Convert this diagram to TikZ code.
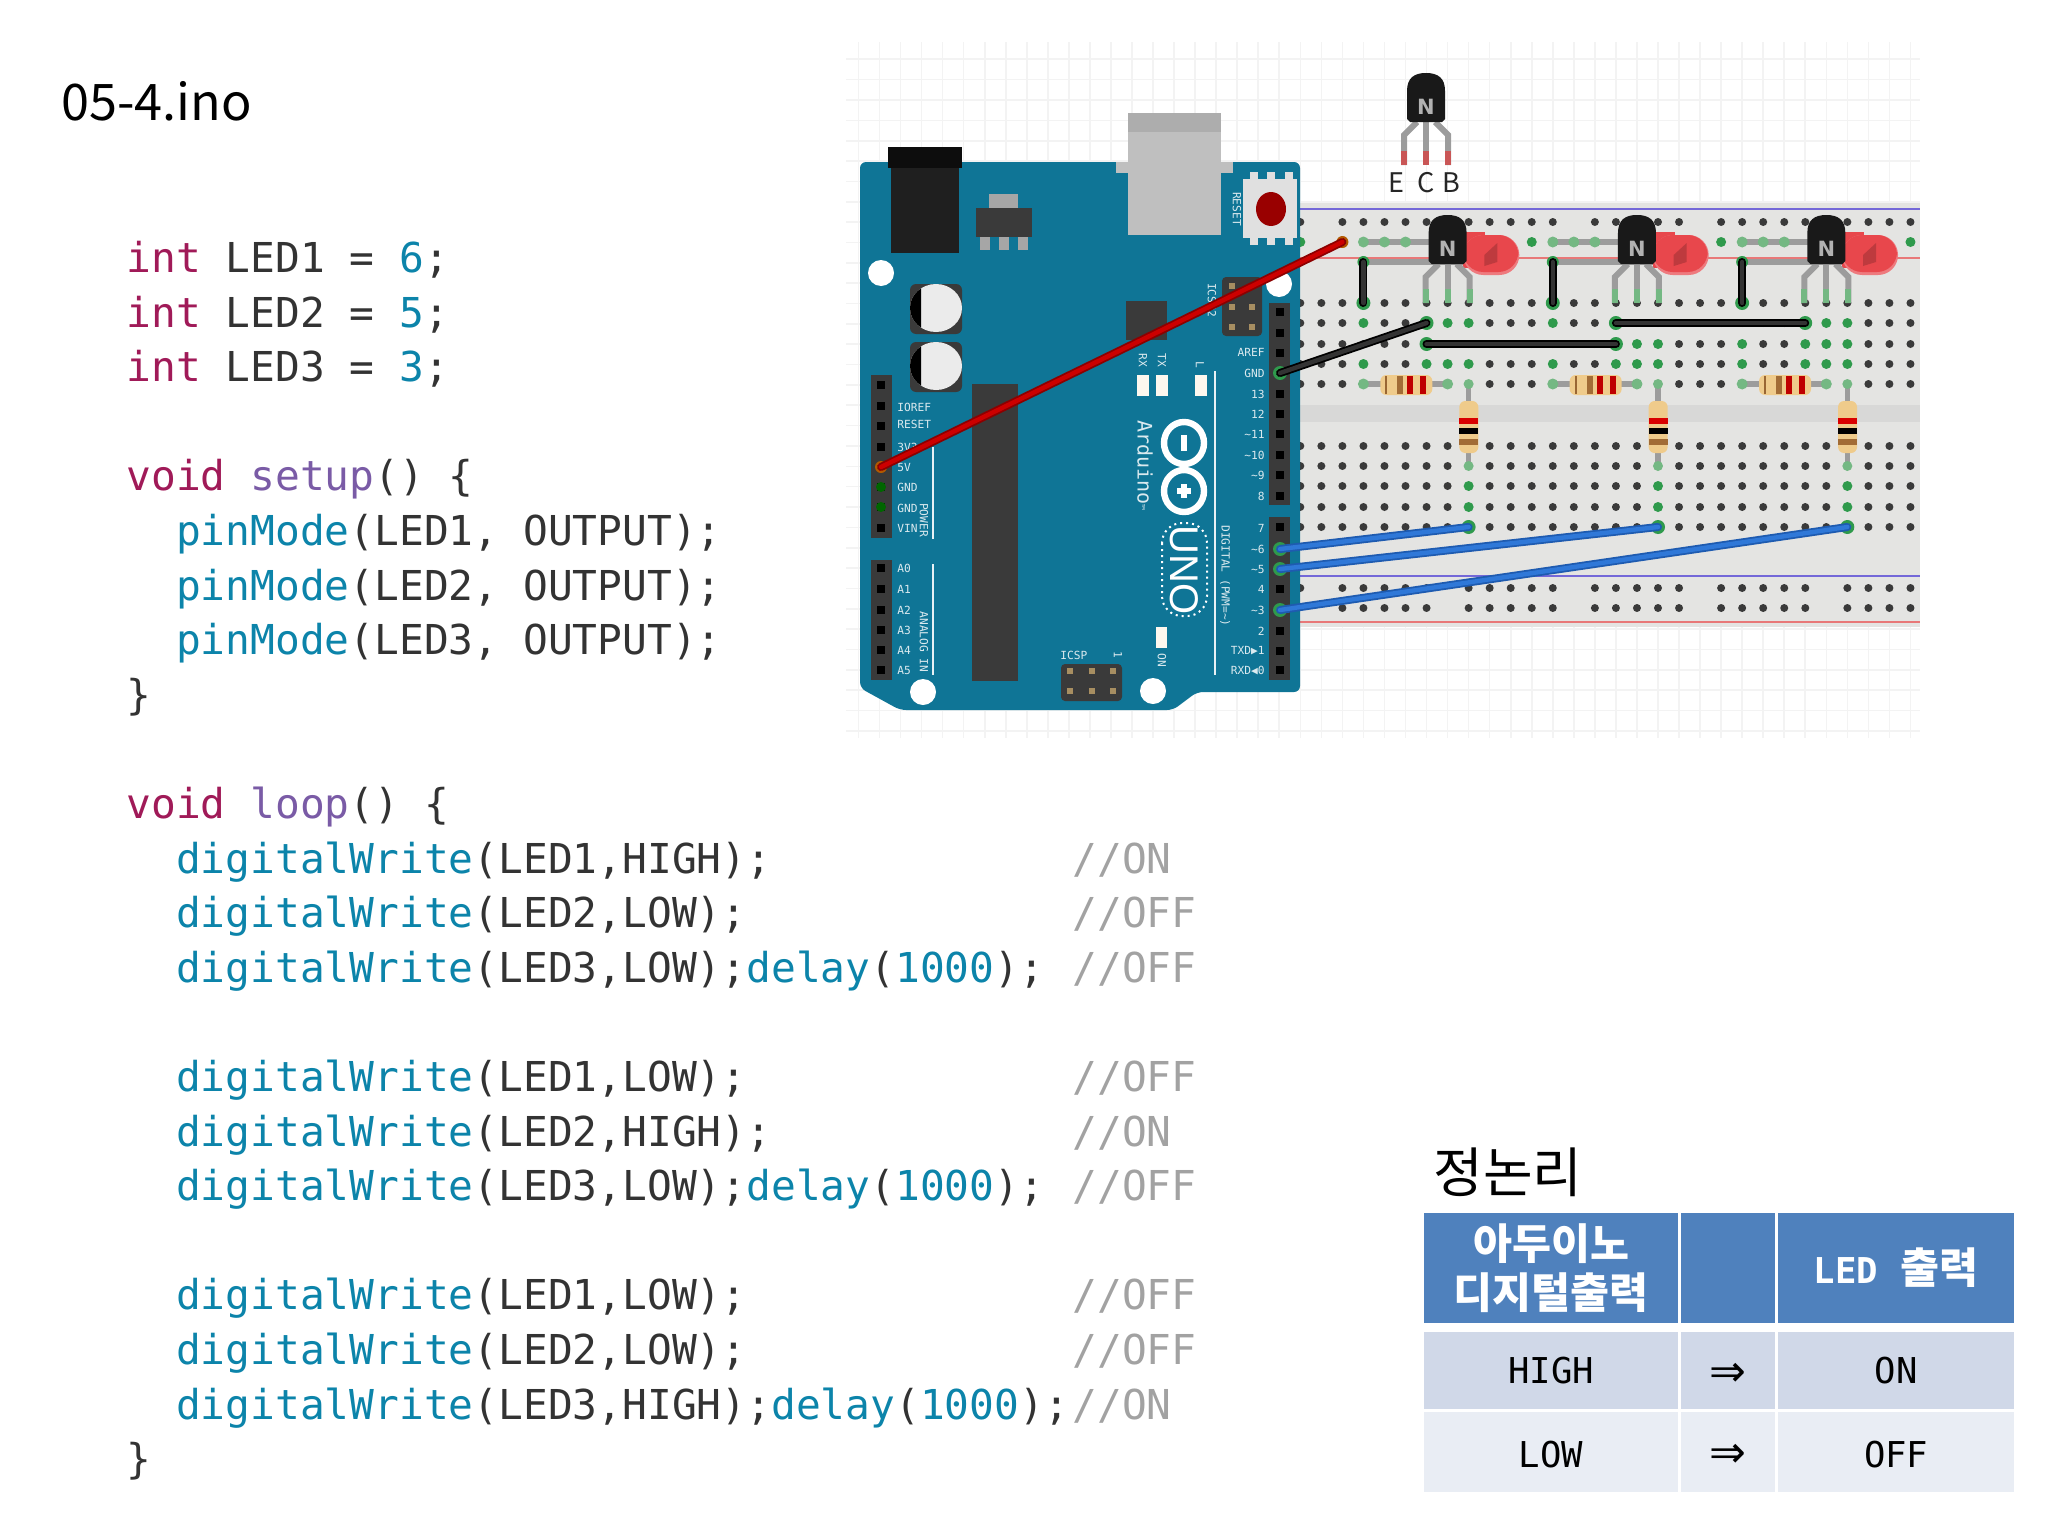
\documentclass[tikz,border=0pt]{standalone}
\usepackage{fontspec}
\setmainfont{Liberation Sans}
\setmonofont{DejaVu Sans Mono}
\newfontfamily\krfont{Noto Sans CJK KR}
\newfontfamily\symfont{DejaVu Sans}
\usetikzlibrary{calc,positioning}

\definecolor{kwred}{HTML}{A01A58}
\definecolor{fnpurple}{HTML}{7A5BA6}
\definecolor{fnblue}{HTML}{0C84AA}
\definecolor{inkdark}{HTML}{333333}
\definecolor{cmtgrey}{HTML}{A2A2A2}
\definecolor{boardteal}{HTML}{0F7596}
\definecolor{hdrdark}{HTML}{3A3A3A}
\definecolor{bbgrey}{HTML}{E4E4E2}
\definecolor{gridgrey}{HTML}{F3F3F3}
\definecolor{holegreen}{HTML}{2F9A4C}
\definecolor{leadgreen}{HTML}{74B883}
\definecolor{leadgrey}{HTML}{9C9C9C}
\definecolor{tanbody}{HTML}{EFCB8B}
\definecolor{ledred}{HTML}{E8474C}
\definecolor{railblue}{HTML}{7468D8}
\definecolor{railred}{HTML}{E87878}
\definecolor{wireblue}{HTML}{2F78D8}
\definecolor{wirebluedk}{HTML}{1E5BB0}
\definecolor{headblue}{HTML}{4F81BD}
\definecolor{rowdark}{HTML}{D0D8E8}
\definecolor{rowlight}{HTML}{E9EDF4}

\newcommand{\kw}[1]{\textcolor{kwred}{#1}}
\newcommand{\fnp}[1]{\textcolor{fnpurple}{#1}}
\newcommand{\fnb}[1]{\textcolor{fnblue}{#1}}
\newcommand{\dropped}[2]{\raisebox{-#1}[\height][\depth]{#2}}

% name, centre x, top y, tip colour, leg end
\newcommand{\transistor}[5]{
  \begin{scope}[shift={(#2,#3)}]
    \draw[lead] (-9,49) -- (-22,62) -- (-22,#5);
    \draw[lead] (0,49) -- (0,#5);
    \draw[lead] (9,49) -- (22,62) -- (22,#5);
    \draw[lead,#4] (-22,#5-14) -- (-22,#5);
    \draw[lead,#4] (0,#5-14) -- (0,#5);
    \draw[lead,#4] (22,#5-14) -- (22,#5);
    \fill[black!90] (-19,18) .. controls (-19,5) and (-12,0) .. (0,0)
      .. controls (12,0) and (19,5) .. (19,18) -- (19,46) -- (16,49) -- (-16,49) -- (-19,46) -- cycle;
    \node[tolabel] (#1) at (0,34) {N};
  \end{scope}
}

\begin{document}
\begin{tikzpicture}[x=0.5pt,y=0.5pt,yscale=-1,xscale=1,
  codeline/.style={anchor=base west, inner sep=0pt, text=inkdark,
    font=\ttfamily\fontsize{20.6}{24}\selectfont},
  comment/.style={codeline, text=cmtgrey},
  pinlab/.style={inner sep=0pt, text=white!85!boardteal,
    font=\ttfamily\fontsize{5.6}{6}\selectfont},
  hole/.style={fill=hdrdark},
  greenhole/.style={fill=holegreen},
  lead/.style={draw=leadgrey, line width=3pt},
  tolabel/.style={inner sep=0pt, text=black!30,
    font=\fontspec{DejaVu Sans Bold}\fontsize{10.5}{12}\selectfont},
  legend/.style={inner sep=0pt, text=black!85,
    font=\krfont\fontsize{13.5}{16}\selectfont},
  wire/.style={line cap=round, line width=0.9pt, double distance=2.2pt},
  cell/.style={anchor=north west, inner sep=0pt, outer sep=0pt, align=center,
    font=\ttfamily\fontsize{17.8}{20}\selectfont},
  hdrcell/.style={cell, fill=headblue, text=white, minimum height=55pt},
  darkcell/.style={cell, fill=rowdark, text=black, minimum height=38.5pt},
  lightcell/.style={cell, fill=rowlight, text=black, minimum height=40pt}
  ]

  \useasboundingbox (0,0) rectangle (2048,1536);

  \node[anchor=base west, inner sep=0pt, font=\krfont\fontsize{25.2}{28}\selectfont] (title) at (61,120) {05-4.ino};

  \foreach \n/\col/\txt in {
    0/126/{\kw{int} LED1 = \fnb{6};},
    1/126/{\kw{int} LED2 = \fnb{5};},
    2/126/{\kw{int} LED3 = \fnb{3};},
    4/126/{\kw{void} \fnp{setup}() \{},
    5/175.6/{\fnb{pinMode}(LED1, OUTPUT);},
    6/175.6/{\fnb{pinMode}(LED2, OUTPUT);},
    7/175.6/{\fnb{pinMode}(LED3, OUTPUT);},
    8/126/{\}},
    10/126/{\kw{void} \fnp{loop}() \{},
    11/175.6/{\fnb{digitalWrite}(LED1,HIGH);},
    12/175.6/{\fnb{digitalWrite}(LED2,LOW);},
    13/175.6/{\fnb{digitalWrite}(LED3,LOW);\fnb{delay}(\fnb{1000});},
    15/175.6/{\fnb{digitalWrite}(LED1,LOW);},
    16/175.6/{\fnb{digitalWrite}(LED2,HIGH);},
    17/175.6/{\fnb{digitalWrite}(LED3,LOW);\fnb{delay}(\fnb{1000});},
    19/175.6/{\fnb{digitalWrite}(LED1,LOW);},
    20/175.6/{\fnb{digitalWrite}(LED2,LOW);},
    21/175.6/{\fnb{digitalWrite}(LED3,HIGH);\fnb{delay}(\fnb{1000});},
    22/126/{\}}}
    \node[codeline] (line\n) at (\col,272.5+54.6*\n) {\txt};

  \foreach \n/\txt in {11/{//ON},12/{//OFF},13/{//OFF},15/{//OFF},16/{//ON},17/{//OFF},19/{//OFF},20/{//OFF},21/{//ON}}
    \node[comment] (cmt\n) at (1072,272.5+54.6*\n) {\txt};

  % grid behind the board
  \foreach \i in {-21,...,29}
    \draw[gridgrey, line width=0.8pt] (1300.3+21.04*\i,42) -- (1300.3+21.04*\i,738);
  \foreach \j in {0,...,33}
    \draw[gridgrey, line width=0.8pt] (846,59.3+20.35*\j) -- (1920,59.3+20.35*\j);

  % breadboard
  \fill[bbgrey] (1290,203) rectangle (1920,627);
  \fill[black!5!bbgrey] (1290,405) rectangle (1920,422);
  \draw[railblue, line width=1.2pt] (1290,209) -- (1920,209);
  \draw[railred, line width=1pt] (1290,258) -- (1920,258);
  \draw[railblue, line width=1pt] (1290,576) -- (1920,576);
  \draw[railred, line width=1.4pt] (1290,622) -- (1920,622);
  \foreach \r in {303,323,344,364,384,446,466,486,507,527}
    \foreach \i in {0,...,29}
      \fill[hole] (1300.3+21.04*\i,\r) circle (4);
  \foreach \r in {222,588,608}
    \foreach \i in {2,...,6,8,9,10,11,12,14,15,16,17,18,20,21,22,23,24,26,27,28,29}
      \fill[hole] (1300.3+21.04*\i,\r) circle (4);
  \foreach \r in {222,588}
    \fill[hole] (1300.3,\r) circle (4);
  \foreach \i in {0,11,20,29}
    \fill[greenhole] (1300.3+21.04*\i,242) circle (5);
  \foreach \i/\r in {3/323,6/323,7/323,8/323,12/323,15/323,24/323,25/323,26/323,
    6/344,15/344,16/344,17/344,21/344,24/344,25/344,26/344,
    3/364,6/364,7/364,8/364,12/364,15/364,16/364,17/364,21/364,24/364,25/364,26/364,
    8/486,8/507,8/527,17/486,17/507,17/527,26/486,26/507,26/527}
    \fill[greenhole] (1300.3+21.04*\i,\r) circle (5);

  % three led stages
  \foreach \k in {0,1,2}{
    \pgfmathsetmacro{\ux}{1300.3+189.36*\k}
    \draw[leadgrey, line width=2.6pt] (\ux+63.1,242) -- (\ux+165,242);
    \draw[leadgrey, line width=2.6pt] (\ux+63.1,262) -- (\ux+165,262);
    \foreach \i in {3,4,5}
      \fill[leadgreen] (\ux+21.04*\i,242) circle (5.5);
    \fill[ledred] (\ux+163,232) rectangle (\ux+185,268);
    \fill[ledred!72!white, rounded corners=10pt] (\ux+163,235) rectangle (\ux+219,275);
    \fill[ledred, rounded corners=10pt] (\ux+163,235) rectangle (\ux+218,272);
    \fill[ledred!82!black] (\ux+184,255) -- (\ux+197,243) -- (\ux+197,262) -- (\ux+184,266) -- cycle;
    \transistor{trans\k}{\ux+147.3}{215}{draw=leadgreen}{88}
    % horizontal resistor
    \draw[leadgrey, line width=2.6pt] (\ux+63.1,384) -- (\ux+147.3,384);
    \fill[leadgreen] (\ux+63.1,384) circle (5.5);
    \fill[leadgreen] (\ux+147.3,384) circle (5.5);
    \fill[tanbody, rounded corners=3pt] (\ux+80,375) rectangle (\ux+132,395);
    \fill[brown!80!black] (\ux+85,376) rectangle (\ux+87,394);
    \fill[brown!85!black] (\ux+97,376) rectangle (\ux+103,394);
    \fill[red!75!black] (\ux+107,376) rectangle (\ux+113,394);
    \fill[red!75!black] (\ux+120,376) rectangle (\ux+126,394);
    % vertical resistor
    \draw[leadgrey, line width=2.6pt] (\ux+168.3,384) -- (\ux+168.3,466);
    \fill[leadgreen] (\ux+168.3,384) circle (5);
    \fill[leadgreen] (\ux+168.3,466) circle (5);
    \fill[tanbody, rounded corners=3pt] (\ux+159,401) rectangle (\ux+178,453);
    \fill[red!85!black] (\ux+159,418) rectangle (\ux+178,424);
    \fill[black] (\ux+159,428) rectangle (\ux+178,434);
    \fill[brown!85!black] (\ux+159,439) rectangle (\ux+178,445);
  }

  % loose transistor with its legend
  \transistor{spare}{1426}{73}{draw=red!45!leadgrey}{92}
  \node[legend] (legE) at (1396,183) {E};
  \node[legend] (legC) at (1426,183) {C};
  \node[legend] (legB) at (1451,183) {B};

  % board parts under the outline
  \fill[black!25] (1116,162) rectangle (1233,173);
  \fill[boardteal, rounded corners=3pt] (860,162) -- (1300,162) -- (1300,692) -- (1197,692)
    -- (1173,710) -- (900,710) -- (860,688) -- cycle;
  \fill[black!25] (1116,162) rectangle (1233,173);
  \fill[black!25] (1128,113) rectangle (1221,235);
  \fill[black!32] (1128,113) rectangle (1221,132);
  \fill[black!88] (891,168) rectangle (959,253);
  \fill[black!95] (888,147) rectangle (962,168);
  \fill[black!35] (989,194) rectangle (1018,208);
  \fill[hdrdark] (976,208) rectangle (1032,237);
  \foreach \lx in {980,999,1018}
    \fill[black!35] (\lx,237) rectangle (\lx+10,250);
  \fill[black!12] (1243,179) rectangle (1297,238);
  \foreach \lx in {1250,1267,1285}{
    \fill[black!12] (\lx,172) rectangle (\lx+8,179);
    \fill[black!12] (\lx,238) rectangle (\lx+8,245);
  }
  \fill[red!60!black] (1271,209) ellipse (15 and 17);
  \foreach \hx/\hy in {881/273,923/692,1153/691,1279/284}
    \fill[white] (\hx,\hy) circle (13);
  \foreach \cy in {308,366}{
    \fill[hdrdark, rounded corners=3pt] (910,\cy-24) rectangle (962,\cy+26);
    \fill[black!8] (936,\cy) ellipse (26 and 24);
    \begin{scope}
      \clip (910,\cy-24) rectangle (921,\cy+26);
      \fill[black] (936,\cy) ellipse (26 and 24);
    \end{scope}
  }
  \fill[hdrdark] (972,384) rectangle (1018,681);
  \fill[hdrdark] (1126,301) rectangle (1167,340);
  \fill[hdrdark, rounded corners=2pt] (1222,277) rectangle (1262,336);
  \foreach \px/\py in {1232/286,1232/307,1252/307,1232/327,1252/327}
    \fill[tanbody!70!black] (\px-3,\py-3) rectangle (\px+3,\py+3);
  \fill[hdrdark, rounded corners=2pt] (1061,664) rectangle (1122,701);
  \foreach \px in {1070,1092,1113}
    \foreach \py in {671,691}
      \fill[tanbody!70!black] (\px-3,\py-3) rectangle (\px+3,\py+3);

  % headers
  \fill[hdrdark] (1269,303) rectangle (1290,505);
  \fill[hdrdark] (1269,517) rectangle (1290,680);
  \fill[hdrdark] (871,375) rectangle (892,538);
  \fill[hdrdark] (871,560) rectangle (892,680);
  \foreach \py in {312,333,353,373,394,414,434,455,475,496,527,547,569,589,610,631,651,670}
    \fill[black] (1276,\py-4) rectangle (1284,\py+4);
  \foreach \py in {385,406,426,447,467,487,507,528,568,589,610,630,650,670}
    \fill[black] (877,\py-4) rectangle (885,\py+4);

  % silk screen
  \draw[white!90!boardteal, line width=1pt] (933,447) -- (933,539);
  \draw[white!90!boardteal, line width=1pt] (933,564) -- (933,675);
  \draw[white!90!boardteal, line width=1pt] (1215,371) -- (1215,675);
  \foreach \n/\py/\txt in {a/407/IOREF,b/424/RESET,c/447/3V3,d/467/5V,e/487/GND,f/508/GND,g/528/VIN,
    h/568/A0,i/589/A1,j/610/A2,k/630/A3,l/650/A4,m/670/A5}
    \node[pinlab, anchor=west] (left\n) at (897,\py) {\txt};
  \foreach \n/\py/\txt in {a/352/AREF,b/373/GND,c/394/13,d/414/12,e/434/{\textasciitilde{}11},f/455/{\textasciitilde{}10},
    g/475/{\textasciitilde{}9},h/496/8,i/528/7,j/549/{\textasciitilde{}6},k/569/{\textasciitilde{}5},l/589/4,
    m/610/{\textasciitilde{}3},n/631/2,o/651/{TXD▶1},p/671/{RXD◀0}}
    \node[pinlab, anchor=east] (right\n) at (1265,\py) {\txt};
  \node[pinlab, rotate=-90] (lblreset) at (1237,209) {RESET};
  \node[pinlab, rotate=-90] (lblicsptwo) at (1212,300) {ICSP2};
  \node[pinlab, rotate=-90] (lblpower) at (924,520) {POWER};
  \node[pinlab, rotate=-90] (lblanalog) at (924,642) {ANALOG IN};
  \node[pinlab, rotate=-90] (lbldigital) at (1225,576) {DIGITAL (PWM=\textasciitilde)};
  \node[pinlab, rotate=-90] (lblrx) at (1143,360) {RX};
  \node[pinlab, rotate=-90] (lbltx) at (1162,360) {TX};
  \node[pinlab, rotate=-90] (lbll) at (1200,365) {L};
  \node[pinlab, rotate=-90] (lblon) at (1162,660) {ON};
  \node[pinlab, anchor=west] (lblicsp) at (1060,655) {ICSP};
  \node[pinlab, rotate=-90] (lblone) at (1118,655) {1};
  \foreach \lx/\ly/\ex in {1137/375/12,1156/375/12,1195/375/12,1156/627/11}
    \fill[white!85!tanbody] (\lx,\ly) rectangle (\lx+\ex,\ly+21);
  \node[pinlab, rotate=-90, anchor=west, font=\ttfamily\fontsize{10}{12}\selectfont] (arduino) at (1145,420) {Arduino{\tiny ™}};
  \draw[white, line width=3.2pt] (1184,443) ellipse (20 and 21);
  \draw[white, line width=3.2pt] (1184,491) ellipse (20 and 21);
  \fill[white] (1181,435) rectangle (1187,451);
  \fill[white] (1181,484) rectangle (1187,498);
  \fill[white] (1177,488) rectangle (1191,494);
  \draw[white, dotted, line width=1pt, rounded corners=10pt] (1162,523) rectangle (1207,616);
  \node[inner sep=0pt, rotate=-90, text=white, font=\fontsize{20}{22}\selectfont] (uno) at (1184,570) {UNO};

  % jumper wires
  \coordinate (pinfive) at (881,467);
  \coordinate (pingnd) at (1280,373);
  \coordinate (pinsix) at (1280,549);
  \coordinate (pinfiv) at (1280,569);
  \coordinate (pinthr) at (1280,610);
  \coordinate (railend) at (1342.4,242);
  \coordinate (gndend) at (1426.5,323);
  \coordinate (ledone) at (1468.6,527);
  \coordinate (ledtwo) at (1658,527);
  \coordinate (ledthr) at (1847.3,527);
  \coordinate (longa) at (1426.5,344);
  \coordinate (longb) at (1615.9,344);
  \coordinate (longc) at (1615.9,323);
  \coordinate (longd) at (1805.2,323);
  \fill[orange!70!black] (pinfive) circle (6);
  \fill[orange!70!black] (railend) circle (6);
  \fill[black!60!green] (881,487) circle (5);
  \fill[black!60!green] (881,507) circle (5);
  \foreach \p in {pingnd,pinsix,pinfiv,pinthr,gndend,ledone,ledtwo,ledthr,longa,longb,longc,longd}
    \fill[greenhole] (\p) circle (7);
  \draw[wire, draw=red!55!black, double=red!80!black] (pinfive) -- (railend);
  \draw[wire, draw=black, double=black!80] (pingnd) -- (gndend);
  \draw[wire, draw=black, double=black!80] (longa) -- (longb);
  \draw[wire, draw=black, double=black!80] (longc) -- (longd);
  \foreach \k in {0,1,2}{
    \coordinate (shorta\k) at (1363.4+189.36*\k,262);
    \coordinate (shortb\k) at (1363.4+189.36*\k,303);
    \fill[greenhole] (shorta\k) circle (6);
    \fill[greenhole] (shortb\k) circle (7);
    \draw[wire, draw=black, double=black!80] (shorta\k) -- (shortb\k);
  }
  \draw[wire, draw=wirebluedk, double=wireblue] (pinsix) -- (ledone);
  \draw[wire, draw=wirebluedk, double=wireblue] (pinfiv) -- (ledtwo);
  \draw[wire, draw=wirebluedk, double=wireblue] (pinthr) -- (ledthr);

  % summary table
  \node[font=\krfont\fontsize{27}{30}\selectfont, inner sep=0pt] (tabletitle) at (1508,1172) {정논리};
  \node[hdrcell, minimum width=127pt, font=\krfont\bfseries\fontsize{21.2}{24.5}\selectfont] (hdra) at (1424,1213) {아두이노\\디지털출력};
  \node[hdrcell, minimum width=47pt] (hdrb) at (1681,1213) {};
  \node[hdrcell, minimum width=118.2pt] (hdrc) at (1778,1213) {\bfseries LED\hspace{11.5pt}{\krfont\fontsize{21.2}{24.5}\selectfont 출력}};
  \node[darkcell, minimum width=127pt] (higha) at (1424,1332) {HIGH};
  \node[darkcell, minimum width=47pt, font=\symfont\fontsize{22}{24}\selectfont] (highb) at (1681,1332) {\dropped{2pt}{⇒}};
  \node[darkcell, minimum width=118.2pt] (highc) at (1778,1332) {ON};
  \node[lightcell, minimum width=127pt] (lowa) at (1424,1412) {\dropped{1.2pt}{LOW}};
  \node[lightcell, minimum width=47pt, font=\symfont\fontsize{22}{24}\selectfont] (lowb) at (1681,1412) {\dropped{2pt}{⇒}};
  \node[lightcell, minimum width=118.2pt] (lowc) at (1778,1412) {\dropped{1.2pt}{OFF}};

\end{tikzpicture}
\end{document}
